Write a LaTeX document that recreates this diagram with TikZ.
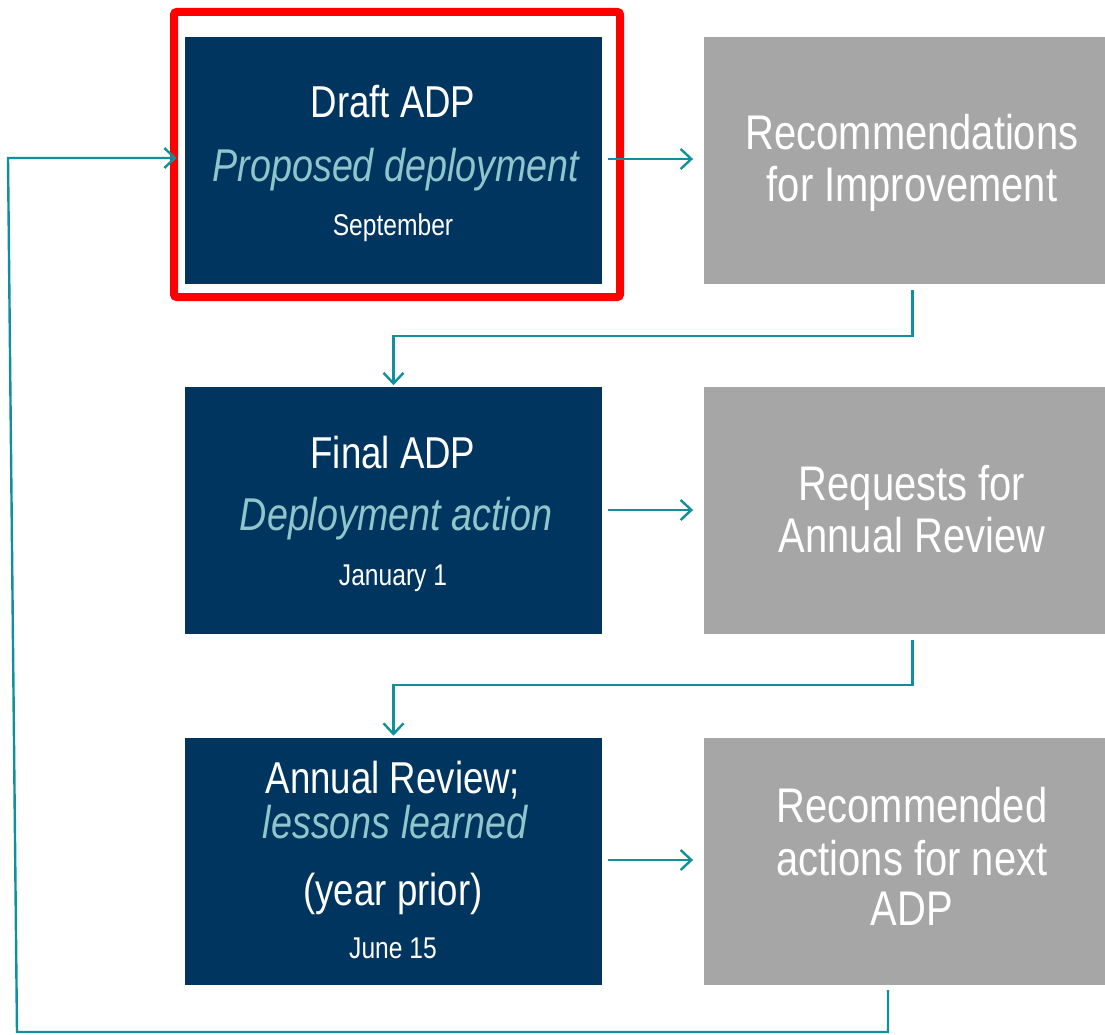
\documentclass[tikz,border=0pt]{standalone}
\usepackage{fontspec}
\setmainfont{Liberation Sans}[FakeStretch=0.82]
\usetikzlibrary{arrows.meta,calc}
\definecolor{navy}{RGB}{0,53,95}
\definecolor{boxgray}{RGB}{166,166,166}
\definecolor{tealline}{RGB}{16,144,154}
\definecolor{lightteal}{RGB}{143,198,203}
\definecolor{framered}{RGB}{255,0,0}
\begin{document}
\begin{tikzpicture}[x=0.75pt,y=-0.75pt,
  navybox/.style={fill=navy,draw=none,inner sep=0pt,minimum width=312.75pt,minimum height=185.25pt},
  graybox/.style={fill=boxgray,draw=none,inner sep=0pt,minimum width=300.75pt,minimum height=185.25pt},
  arr/.style={draw=tealline,line width=1.8pt,-{Straight Barb[length=8pt,width=15pt,line width=1.8pt]}},
  big/.style={anchor=base,text=white,font=\fontsize{33.5}{40}\selectfont},
  bigit/.style={anchor=base,text=lightteal,font=\fontsize{34.5}{41}\selectfont\itshape},
  small/.style={anchor=base,text=white,font=\fontsize{22.5}{27}\selectfont},
  graytxt/.style={anchor=base,text=white,font=\fontsize{36.5}{43}\selectfont}]
\useasboundingbox (0,0) rectangle (1105,1034);
% boxes
\node[navybox] (draft) at (393.5,160.5) {};
\node[graybox] (rec) at (904.5,160.5) {};
\node[navybox] (final) at (393.5,510.5) {};
\node[graybox] (req) at (904.5,510.5) {};
\node[navybox] (annual) at (393.5,861) {};
\node[graybox] (next) at (904.5,861) {};
% red frame
\draw[framered,line width=6pt,rounded corners=2pt] (174,12) rectangle (620,297);
% texts
\node[big] (t1a) at (393,118) {Draft ADP};
\node[bigit] (t1b) at (396,182) {Proposed deployment};
\node[small] (t1c) at (393,235) {September};
\node[graytxt] (r1a) at (912,150) {Recommendations};
\node[graytxt] (r1b) at (912,202) {for Improvement};
\node[big] (t2a) at (393,468) {Final ADP};
\node[bigit] (t2b) at (396,530) {Deployment action};
\node[small] (t2c) at (393,585) {January 1};
\node[graytxt] (r2a) at (912,500) {Requests for};
\node[graytxt] (r2b) at (912,552) {Annual Review};
\node[big] (t3a) at (393,793) {Annual Review;};
\node[bigit] (t3b) at (395,838) {lessons learned};
\node[big] (t3c) at (393,905) {(year prior)};
\node[small] (t3d) at (393,958) {June 15};
\node[graytxt] (r3a) at (912,822) {Recommended};
\node[graytxt] (r3b) at (912,875) {actions for next};
\node[graytxt] (r3c) at (912,925) {ADP};
% horizontal arrows
\draw[arr,shorten <=4.5pt,shorten >=8pt] (draft.east |- 0,159) -- (rec.west |- 0,159);
\draw[arr,shorten <=4.5pt,shorten >=8pt] (final.east |- 0,510) -- (req.west |- 0,510);
\draw[arr,shorten <=4.5pt,shorten >=8pt] (annual.east |- 0,860) -- (next.west |- 0,860);
% down connectors
\coordinate (d1s) at ($(rec.south)+(8,6)$);
\coordinate (d1m) at ($(rec.south)+(8,52)$);
\coordinate (d1e) at ($(final.north)+(0,-1.5)$);
\draw[arr] (d1s) -- (d1m) -| (d1e);
\coordinate (d2s) at ($(req.south)+(8,6)$);
\coordinate (d2m) at ($(req.south)+(8,51)$);
\coordinate (d2e) at ($(annual.north)+(0,-1.5)$);
\draw[arr] (d2s) -- (d2m) -| (d2e);
% feedback loop
\coordinate (l1) at (888,990);
\coordinate (l2) at (888,1032);
\coordinate (l3) at (17,1032);
\coordinate (l4) at (8,158);
\coordinate (l5) at ($(draft.west |- 0,158)+(-8,0)$);
\draw[arr] (l1) -- (l2) -- (l3) -- (l4) -- (l5);
\end{tikzpicture}
\end{document}
